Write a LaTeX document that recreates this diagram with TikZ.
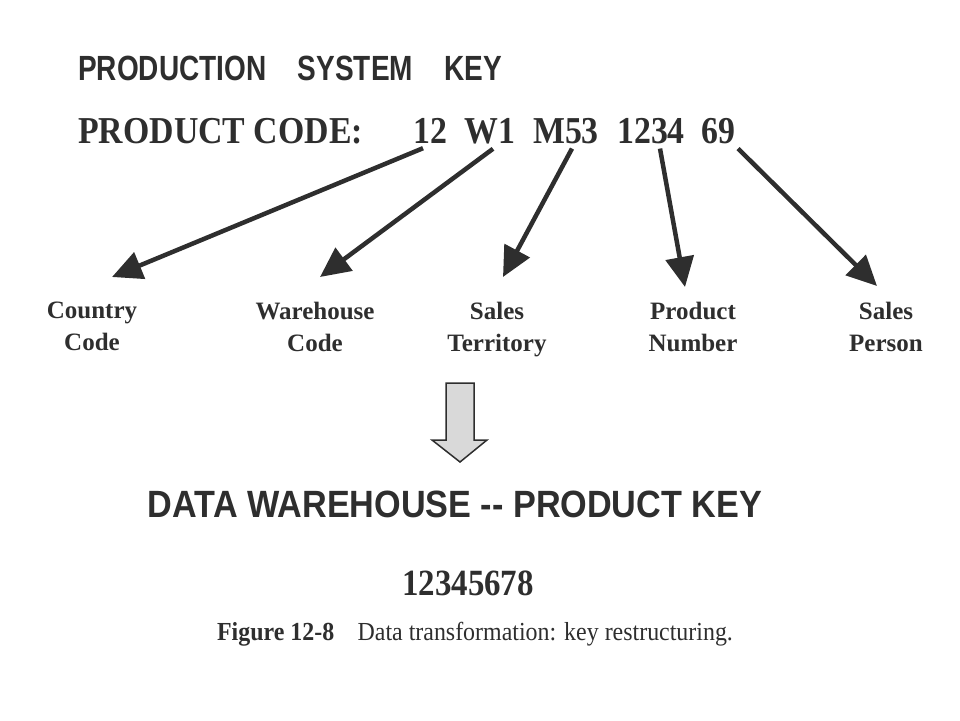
\documentclass[tikz,border=0pt]{standalone}
\usepackage{fontspec}
\setmainfont{Liberation Serif}
\newfontfamily\titlesans[FakeStretch=0.8]{Liberation Sans}
\newfontfamily\headsans[FakeStretch=0.9]{Liberation Sans}
\newfontfamily\codeserif[FakeStretch=0.89]{Liberation Serif}
\newfontfamily\captionserif[FakeStretch=0.92]{Liberation Serif}
\usetikzlibrary{arrows.meta}
\definecolor{ink}{HTML}{2E2E2E}
\definecolor{blockgray}{HTML}{D9D9D9}

\begin{document}
\begin{tikzpicture}[x=1pt,y=-1pt,
    every node/.style={inner sep=0pt,text=ink},
    keyarrow/.style={draw=ink,line width=4.5pt,-{Triangle[length=30pt,width=28pt]}},
    field/.style={anchor=north,align=center,font=\fontsize{25}{32}\selectfont\bfseries}]
    \useasboundingbox (0,0) rectangle (960,720);
    \node[anchor=base west] (syskey) at (78,80) {\fontsize{35}{40}\titlesans\bfseries PRODUCTION\hspace{0.9em}SYSTEM\hspace{0.9em}KEY};
    \node[anchor=base west,font=\fontsize{38}{44}\codeserif\bfseries] (code) at (78,143) {PRODUCT CODE:};
    % parts of the code
    \foreach \name/\x/\txt in {c12/430/12,cW1/490/W1,cM53/566/M53,c1234/651/1234,c69/718/69}
      \node[anchor=base,font=\fontsize{38}{44}\codeserif\bfseries] (\name) at (\x,143) {\txt};
    % fields
    \node[field] (country) at (92,302) {Country\\Code};
    \node[field] (warehouse) at (315,302) {Warehouse\\Code};
    \node[field] (territory) at (497,302) {Sales\\Territory};
    \node[field] (product) at (693,302) {Product\\Number};
    \node[field] (person) at (886,302) {Sales\\Person};
    \foreach \src/\dst/\sx/\dx/\dy in {c12/country/-7/20/25,cW1/warehouse/3/5/25,cM53/territory/6/6/25,c1234/product/9/-8/15,c69/person/20/-9/16}
      \draw[keyarrow] ([xshift=\sx pt,yshift=-5pt]\src.south) -- ([xshift=\dx pt,yshift=\dy pt]\dst.north);
    % block arrow
    \draw[fill=blockgray,draw=ink,line width=1.5pt,line join=miter]
      (446,383) -- (474,383) -- (474,440) -- (487,440) -- (460,462) -- (432,440) -- (446,440) -- cycle;
    \node[anchor=base,font=\fontsize{38}{44}\headsans\bfseries] (dwkey) at (455,517) {DATA WAREHOUSE {-}{-} PRODUCT KEY};
    \node[anchor=base,font=\fontsize{37}{42}\codeserif\bfseries] (newkey) at (468,595) {12345678};
    \node[anchor=base,font=\fontsize{26}{30}\captionserif] (caption) at (475,640) {\textbf{Figure 12-8}\hspace{0.9em}Data transformation: key restructuring.};
\end{tikzpicture}
\end{document}
